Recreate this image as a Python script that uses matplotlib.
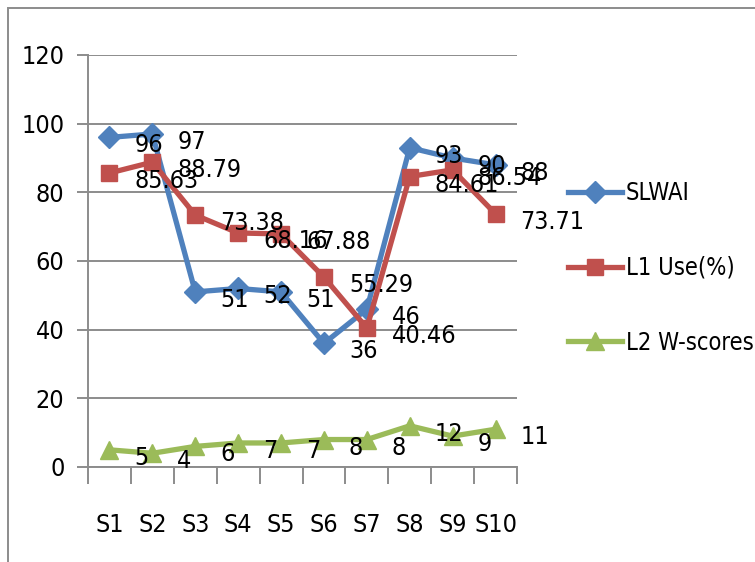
import matplotlib.pyplot as plt
from matplotlib.patches import Rectangle

plt.rcParams['font.family'] = ['Liberation Sans Narrow', 'DejaVu Sans']
plt.rcParams['font.stretch'] = 'condensed'

categories = ['S1', 'S2', 'S3', 'S4', 'S5', 'S6', 'S7', 'S8', 'S9', 'S10']
slwai = [96, 97, 51, 52, 51, 36, 46, 93, 90, 88]
l1_use = [85.63, 88.79, 73.38, 68.16, 67.88, 55.29, 40.46, 84.61, 86.54, 73.71]
l2_wscores = [5, 4, 6, 7, 7, 8, 8, 12, 9, 11]

series = [
    ('SLWAI', slwai, '#4F81BD', 'D', 11),
    ('L1 Use(%)', l1_use, '#C0504D', 's', 12),
    ('L2 W-scores', l2_wscores, '#9BBB59', '^', 13),
]

fs = 18
grey = '#8C8C8C'

fig = plt.figure(figsize=(7.55, 5.62), dpi=100)
ax = fig.add_axes([88 / 755, 1 - 467 / 562, (517 - 88) / 755, (467 - 55) / 562])

x = list(range(len(categories)))
for name, vals, col, mk, ms in series:
    ax.plot(x, vals, color=col, lw=3.8, marker=mk, markersize=ms, label=name, zorder=3)
    for xi, v in zip(x, vals):
        lab = ('%g' % v)
        ax.annotate(lab, (xi, v), xytext=(25, -8), textcoords='offset pixels',
                    ha='left', va='center', fontsize=fs, color='black', zorder=5)

ax.set_xlim(-0.5, len(categories) - 0.5)
ax.set_ylim(0, 120)
ax.set_yticks(range(0, 121, 20))
ax.grid(axis='y', color=grey, lw=1.4)
ax.set_axisbelow(True)

ax.set_xticks([i - 0.5 for i in range(len(categories) + 1)])
ax.set_xticklabels([])
ax.set_xticks(x, minor=True)
ax.set_xticklabels(categories, minor=True)
ax.tick_params(axis='x', which='major', length=12, width=1.4, color=grey)
ax.tick_params(axis='x', which='minor', length=0, pad=33, labelsize=fs)
ax.tick_params(axis='y', length=8, width=1.4, color=grey, pad=9, labelsize=fs)

for s in ['top', 'right']:
    ax.spines[s].set_visible(False)
for s in ['left', 'bottom']:
    ax.spines[s].set_color(grey)
    ax.spines[s].set_linewidth(1.4)

ax.legend(loc='center left', bbox_to_anchor=(556 / 755, 1 - 268 / 562),
          bbox_transform=fig.transFigure, frameon=False, fontsize=17,
          handlelength=2.3, labelspacing=2.15, handletextpad=0.15, borderpad=0)

fig.patches.append(Rectangle((8 / 755, -0.5), 2, 1.5 - 8 / 562, transform=fig.transFigure,
                             fill=False, edgecolor=grey, lw=1.4))

fig.savefig('out.png', dpi=100)
